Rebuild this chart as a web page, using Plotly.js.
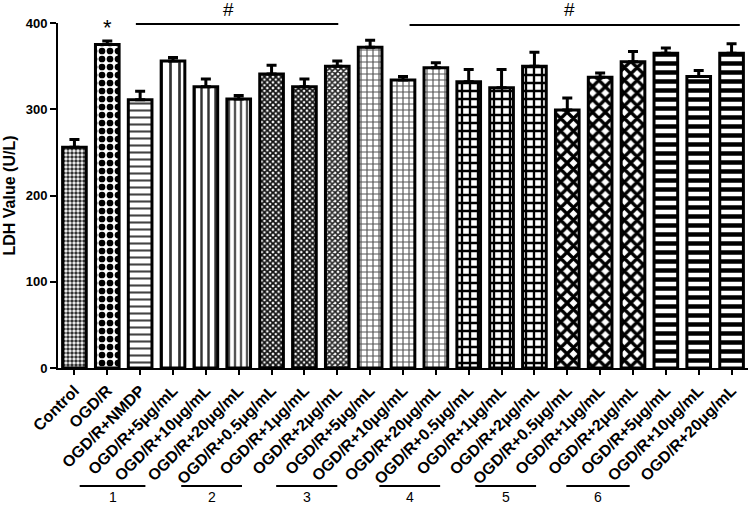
<!DOCTYPE html>
<html>
<head>
<meta charset="utf-8">
<script src="https://cdn.plot.ly/plotly-3.0.1.min.js"></script>
<style>
    html, body { margin: 0; padding: 0; background: #fff; }
    #chart { width: 750px; height: 506px; }
</style>
</head>
<body>
<div id="chart"></div>
<script>
const groupNames = [
    "Control", "OGD/R", "OGD/R+NMDP",
    "OGD/R+5μg/mL", "OGD/R+10μg/mL", "OGD/R+20μg/mL",
    "OGD/R+0.5μg/mL", "OGD/R+1μg/mL", "OGD/R+2μg/mL",
    "OGD/R+5μg/mL", "OGD/R+10μg/mL", "OGD/R+20μg/mL",
    "OGD/R+0.5μg/mL", "OGD/R+1μg/mL", "OGD/R+2μg/mL",
    "OGD/R+0.5μg/mL", "OGD/R+1μg/mL", "OGD/R+2μg/mL",
    "OGD/R+5μg/mL", "OGD/R+10μg/mL", "OGD/R+20μg/mL"
];
const ldhMean = [256, 375, 311, 356, 326, 312, 341, 326, 350, 372, 334, 348, 332, 325, 350, 299, 337, 355, 365, 338, 365];
const ldhSem = [9, 4, 10, 4, 9, 4, 10, 9, 6, 8, 4, 6, 14, 21, 16, 14, 5, 12, 6, 7, 11];

// group numbers drawn under the tick labels (x in category index units)
const groupLabels = ["1", "2", "3", "4", "5", "6"];
const groupStart = [0.16, 3.25, 6.14, 9.28, 12.2, 14.97];
const groupEnd = [2.16, 5.1, 8.0, 11.13, 14.05, 16.9];

// significance marks
const sigText = ["*", "#", "#"];
const sigX = [1, 4.7, 15.07];
const sigLineStart = [1.87, 10.2];
const sigLineEnd = [8.03, 20.25];

// pattern style for each bar
const patShape = [".", ".", "-", "|", "|", "|", "x", "x", "x", "+", "+", "+", "+", "+", "+", "x", "x", "x", "-", "-", "-"];
const patSize = [4, 8, 7, 9, 7, 6, 4, 4, 4, 6, 6, 6, 8, 8, 8, 9, 9, 9, 9, 9, 9];
const patSolid = [0.6, 0.55, 0.3, 0.3, 0.35, 0.4, 0.7, 0.7, 0.65, 0.35, 0.35, 0.35, 0.5, 0.5, 0.5, 0.6, 0.6, 0.6, 0.5, 0.5, 0.5];
const patColor = ["#333", "#000", "#444", "#333", "#333", "#555", "#111", "#111", "#222", "#555", "#555", "#555", "#000", "#000", "#000", "#000", "#000", "#000", "#000", "#000", "#000"];

const idx = groupNames.map((_, i) => i);
const font = "Arial, 'Liberation Sans', sans-serif";

// plot area spans 23..368 px vertically, so paper units per px:
const plotH = 345;
const pxToPaper = (py) => (368 - py) / plotH;

const trace = {
    type: "bar",
    x: idx,
    y: ldhMean,
    width: 0.72,
    marker: {
        color: "white",
        line: { color: "black", width: 3 },
        pattern: {
            shape: patShape,
            size: patSize,
            solidity: patSolid,
            fgcolor: patColor,
            fgopacity: 1,
            fillmode: "overlay",
        },
    },
    error_y: {
        type: "data",
        symmetric: false,
        array: ldhSem,
        arrayminus: ldhSem.map(() => 0),
        color: "black",
        thickness: 3,
        width: 5,
    },
    hoverinfo: "skip",
};

const shapes = [];
const annotations = [];

groupLabels.forEach((g, i) => {
    shapes.push({
        type: "line", xref: "x", yref: "paper",
        x0: groupStart[i], x1: groupEnd[i],
        y0: pxToPaper(486), y1: pxToPaper(486),
        line: { color: "black", width: 2 },
    });
    annotations.push({
        text: g, xref: "x", yref: "paper",
        x: (groupStart[i] + groupEnd[i]) / 2, y: pxToPaper(497),
        showarrow: false, yanchor: "middle",
        font: { family: font, size: 14, color: "black" },
    });
});

sigLineStart.forEach((s, i) => {
    shapes.push({
        type: "line", xref: "x", yref: "paper",
        x0: s, x1: sigLineEnd[i],
        y0: pxToPaper(24 + i), y1: pxToPaper(24 + i),
        line: { color: "black", width: 2 },
    });
});

sigText.forEach((t, i) => {
    annotations.push({
        text: t, xref: "x", yref: "paper",
        x: sigX[i], y: t === "*" ? pxToPaper(27) : pxToPaper(10),
        showarrow: false, yanchor: "middle",
        font: { family: font, size: t === "*" ? 22 : 19, color: "black" },
    });
});

const layout = {
    width: 750,
    height: 506,
    margin: { t: 23, b: 138, l: 58, r: 2 },
    paper_bgcolor: "white",
    plot_bgcolor: "white",
    showlegend: false,
    font: { family: font, color: "black" },
    xaxis: {
        range: [-0.5, 20.5],
        tickmode: "array",
        tickvals: idx,
        ticktext: groupNames,
        tickangle: -45,
        tickfont: { family: font, size: 16, color: "black", weight: "bold" },
        showline: true,
        linecolor: "black",
        linewidth: 2,
        ticks: "outside",
        ticklen: 5,
        tickwidth: 2,
        tickcolor: "black",
        showgrid: false,
        zeroline: false,
        fixedrange: true,
    },
    yaxis: {
        range: [0, 400],
        tickvals: [0, 100, 200, 300, 400],
        tickfont: { family: font, size: 13, color: "black", weight: "bold" },
        showline: true,
        linecolor: "black",
        linewidth: 2,
        ticks: "outside",
        ticklen: 6,
        tickwidth: 2,
        tickcolor: "black",
        showgrid: false,
        zeroline: false,
        title: {
            text: "LDH Value (U/L)",
            font: { family: font, size: 16, color: "black", weight: "bold" },
            standoff: 6,
        },
        fixedrange: true,
    },
    shapes: shapes,
    annotations: annotations,
};

Plotly.newPlot("chart", [trace], layout, { displayModeBar: false, staticPlot: true });
</script>
</body>
</html>
